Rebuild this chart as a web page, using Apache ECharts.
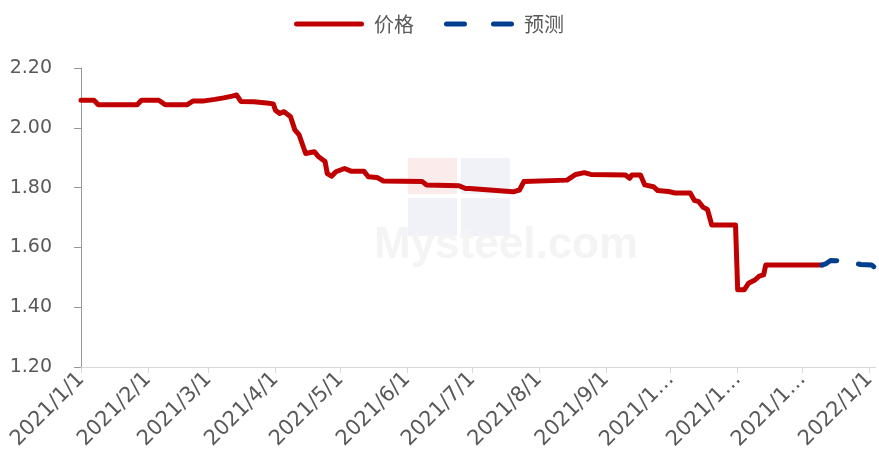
<!DOCTYPE html>
<html>
<head>
<meta charset="utf-8">
<script src="https://cdn.jsdelivr.net/npm/echarts@6/dist/echarts.min.js"></script>
<style>
html,body{margin:0;padding:0;background:#fff;}
#chart{width:879px;height:461px;}
</style>
</head>
<body>
<div id="chart"></div>
<script>
const priceDates = ['2021-01-01','2021-01-07','2021-01-09','2021-01-27','2021-01-29','2021-02-06','2021-02-09','2021-02-19','2021-02-22','2021-02-27','2021-03-04','2021-03-08','2021-03-12','2021-03-14','2021-03-16','2021-03-22','2021-03-28','2021-03-31','2021-04-01','2021-04-03','2021-04-05','2021-04-08','2021-04-10','2021-04-12','2021-04-15','2021-04-19','2021-04-21','2021-04-24','2021-04-25','2021-04-27','2021-04-29','2021-05-03','2021-05-06','2021-05-12','2021-05-14','2021-05-18','2021-05-21','2021-06-08','2021-06-10','2021-06-25','2021-06-28','2021-06-30','2021-07-20','2021-07-23','2021-07-25','2021-08-14','2021-08-18','2021-08-22','2021-08-25','2021-09-10','2021-09-12','2021-09-13','2021-09-17','2021-09-19','2021-09-23','2021-09-25','2021-09-30','2021-10-03','2021-10-10','2021-10-12','2021-10-14','2021-10-16','2021-10-18','2021-10-20','2021-10-31','2021-11-01','2021-11-04','2021-11-06','2021-11-09','2021-11-11','2021-11-13','2021-11-14','2021-12-10'];
const priceValues = [2.092,2.092,2.077,2.077,2.092,2.092,2.077,2.077,2.090,2.090,2.095,2.100,2.106,2.110,2.088,2.087,2.083,2.080,2.059,2.048,2.054,2.037,1.993,1.976,1.914,1.920,1.903,1.887,1.847,1.838,1.853,1.864,1.855,1.855,1.836,1.834,1.822,1.820,1.809,1.806,1.797,1.797,1.786,1.792,1.820,1.825,1.844,1.850,1.844,1.842,1.831,1.842,1.842,1.809,1.803,1.790,1.787,1.782,1.782,1.757,1.753,1.734,1.727,1.675,1.675,1.458,1.458,1.480,1.491,1.504,1.508,1.541,1.541];
const forecastDates = ['2021-12-10','2021-12-12','2021-12-14','2021-12-19','2021-12-28','2022-01-02','2022-01-04'];
const forecastValues = [1.541,1.546,1.556,1.555,1.543,1.541,1.530];
const tickDates = ['2021-01-01','2021-02-01','2021-03-01','2021-04-01','2021-05-01','2021-06-01','2021-07-01','2021-08-01','2021-09-01','2021-10-01','2021-11-01','2021-12-01','2022-01-01'];
const tickLabels = ['2021/1/1','2021/2/1','2021/3/1','2021/4/1','2021/5/1','2021/6/1','2021/7/1','2021/8/1','2021/9/1','2021/1…','2021/1…','2021/1…','2022/1/1'];
const axisStart = '2021-01-01';
const axisEnd = '2022-01-04';
const yMin = 1.2, yMax = 2.2, yStep = 0.2;

function dayIndex(s){
  const p = s.split('-').map(Number);
  const b = axisStart.split('-').map(Number);
  return Math.round((Date.UTC(p[0],p[1]-1,p[2]) - Date.UTC(b[0],b[1]-1,b[2]))/86400000);
}
const tickDays = tickDates.map(dayIndex);
const labelMap = {};
tickDays.forEach((d,i)=>{labelMap[d]=tickLabels[i];});
const priceData = priceDates.map((d,i)=>[dayIndex(d), priceValues[i]]);
const forecastData = forecastDates.map((d,i)=>[dayIndex(d), forecastValues[i]]);

const solidIcon = 'path://M2.5,0h65a2.5,2.5 0 0 1 0,5h-65a2.5,2.5 0 0 1 0,-5z';
const dashIcon = 'path://M2.5,0h18a2.5,2.5 0 0 1 0,5h-18a2.5,2.5 0 0 1 0,-5z M49.5,0h18a2.5,2.5 0 0 1 0,5h-18a2.5,2.5 0 0 1 0,-5z';

const chart = echarts.init(document.getElementById('chart'));
chart.setOption({
  animation:false,
  backgroundColor:'#fff',
  legend:{
    top:9,
    left:289,
    itemWidth:70,
    itemHeight:5,
    itemGap:30,
    textStyle:{color:'#595959',fontSize:20,fontFamily:'Noto Sans CJK SC',padding:[0,0,0,5]},
    data:[
      {name:'价格', icon:solidIcon},
      {name:'预测', icon:dashIcon}
    ]
  },
  grid:{left:81,right:0,top:68,bottom:94},
  xAxis:{
    type:'value',
    min:0,
    max:dayIndex(axisEnd),
    splitLine:{show:false},
    axisLine:{show:true,lineStyle:{color:'#d9d9d9',width:1}},
    axisTick:{show:true,customValues:tickDays,length:6,lineStyle:{color:'#d9d9d9'}},
    axisLabel:{
      customValues:tickDays,
      rotate:45,
      margin:9,
      color:'#595959',
      fontSize:21,
      fontFamily:'DejaVu Sans',
      formatter:function(v){return labelMap[v] || '';}
    }
  },
  yAxis:{
    type:'value',
    min:yMin,
    max:yMax,
    interval:yStep,
    splitLine:{show:false},
    axisLine:{show:true,lineStyle:{color:'#999999',width:1}},
    axisTick:{show:true,length:7,lineStyle:{color:'#999999'}},
    axisLabel:{
      color:'#595959',
      fontSize:19,
      fontFamily:'DejaVu Sans',
      margin:29,
      formatter:function(v){return v.toFixed(2);}
    }
  },
  graphic:[
    {type:'rect',z:-1,shape:{x:408,y:158,width:49,height:36},style:{fill:'#fcebeb'}},
    {type:'rect',z:-1,shape:{x:461,y:158,width:49,height:36},style:{fill:'#f0f2f8'}},
    {type:'rect',z:-1,shape:{x:408,y:198,width:49,height:38},style:{fill:'#f0f2f8'}},
    {type:'rect',z:-1,shape:{x:461,y:198,width:49,height:38},style:{fill:'#f0f2f8'}},
    {type:'text',z:-1,left:374,top:224,style:{text:'Mysteel.com',fill:'#f4f4f4',font:'bold 44px "Liberation Sans"'}}
  ],
  series:[
    {
      name:'价格',
      type:'line',
      data:priceData,
      symbol:'none',
      z:3,
      lineStyle:{color:'#C00000',width:5,cap:'round',join:'round'},
      itemStyle:{color:'#C00000'}
    },
    {
      name:'预测',
      type:'line',
      data:forecastData,
      symbol:'none',
      z:4,
      lineStyle:{color:'#003F8E',width:5,type:[16,22],cap:'round',join:'round'},
      itemStyle:{color:'#003F8E'}
    }
  ]
});
</script>
</body>
</html>
